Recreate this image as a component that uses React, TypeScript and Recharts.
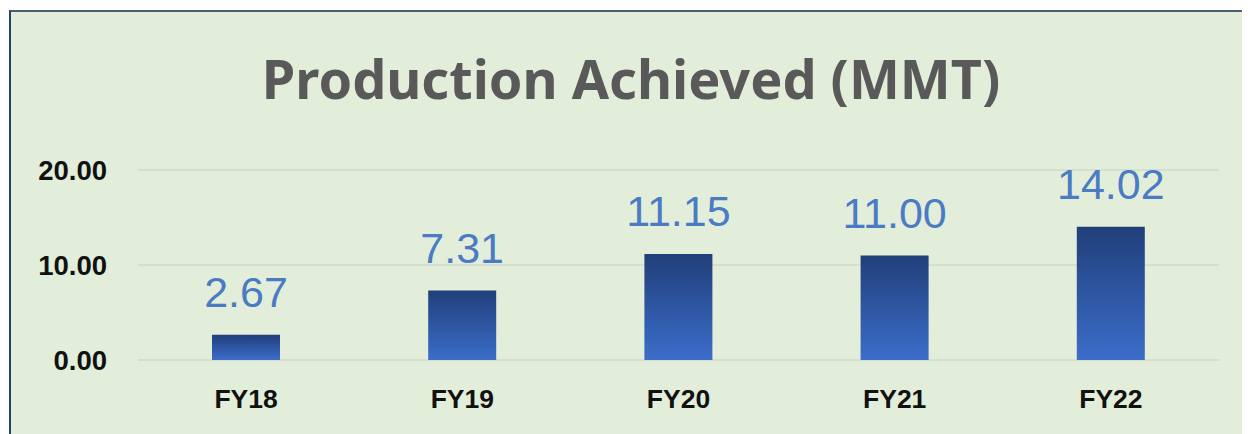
import { Bar, BarChart, CartesianGrid, LabelList, XAxis, YAxis } from "recharts"

const years = ["FY18", "FY19", "FY20", "FY21", "FY22"]
const production = [2.67, 7.31, 11.15, 11.0, 14.02]
const yTicks = [0, 10, 20]

const data = years.map((year, i) => ({ year, value: production[i] }))

export default function App() {
    return (
        <div style={{ position: "absolute", left: 0, top: 0, width: 1248, height: 434, background: "#ffffff", overflow: "hidden" }}>
            {/* green panel with the dark left/top edge */}
            <div style={{
                position: "absolute", left: 9, top: 10, width: 1231, height: 430,
                background: "#e2eed9", borderLeft: "2px solid #23406f", borderTop: "2px solid #4a5f78",
            }} />
            <div style={{
                position: "absolute", left: 0, top: 40, width: 1262, textAlign: "center",
                fontFamily: "'Noto Sans', sans-serif", fontWeight: 700, fontSize: 54, color: "#595959", lineHeight: "76px",
            }}>
                Production Achieved (MMT)
            </div>
            <div style={{ position: "absolute", left: 0, top: 0 }}>
                <BarChart width={1248} height={434} data={data} margin={{ top: 170, right: 29, left: 28, bottom: 14 }}>
                    <defs>
                        <linearGradient id="barFill" x1="0" y1="0" x2="0" y2="1">
                            <stop offset="0%" stopColor="#213f7a" />
                            <stop offset="100%" stopColor="#3b6dca" />
                        </linearGradient>
                    </defs>
                    <CartesianGrid vertical={false} stroke="#d2d9cd" strokeWidth={1.5} />
                    <XAxis
                        dataKey="year"
                        axisLine={false}
                        tickLine={false}
                        tickSize={0}
                        tickMargin={29}
                        height={60}
                        tick={{ fill: "#111111", fontSize: 26.5, fontWeight: 700, fontFamily: "'Liberation Sans', Arial, sans-serif" }}
                    />
                    <YAxis
                        domain={[0, 20]}
                        ticks={yTicks}
                        width={110}
                        axisLine={false}
                        tickLine={false}
                        tickSize={0}
                        tickMargin={31}
                        tickFormatter={(v: number) => v.toFixed(2)}
                        tick={{ fill: "#111111", fontSize: 27.5, fontWeight: 700, fontFamily: "'Liberation Sans', Arial, sans-serif" }}
                    />
                    <Bar dataKey="value" fill="url(#barFill)" barSize={68} isAnimationActive={false}>
                        <LabelList
                            dataKey="value"
                            position="top"
                            offset={28}
                            formatter={(v: any) => Number(v).toFixed(2)}
                            style={{ fill: "#4a7bc4", fontSize: 43, fontFamily: "'Liberation Sans', Arial, sans-serif" }}
                        />
                    </Bar>
                </BarChart>
            </div>
        </div>
    )
}
